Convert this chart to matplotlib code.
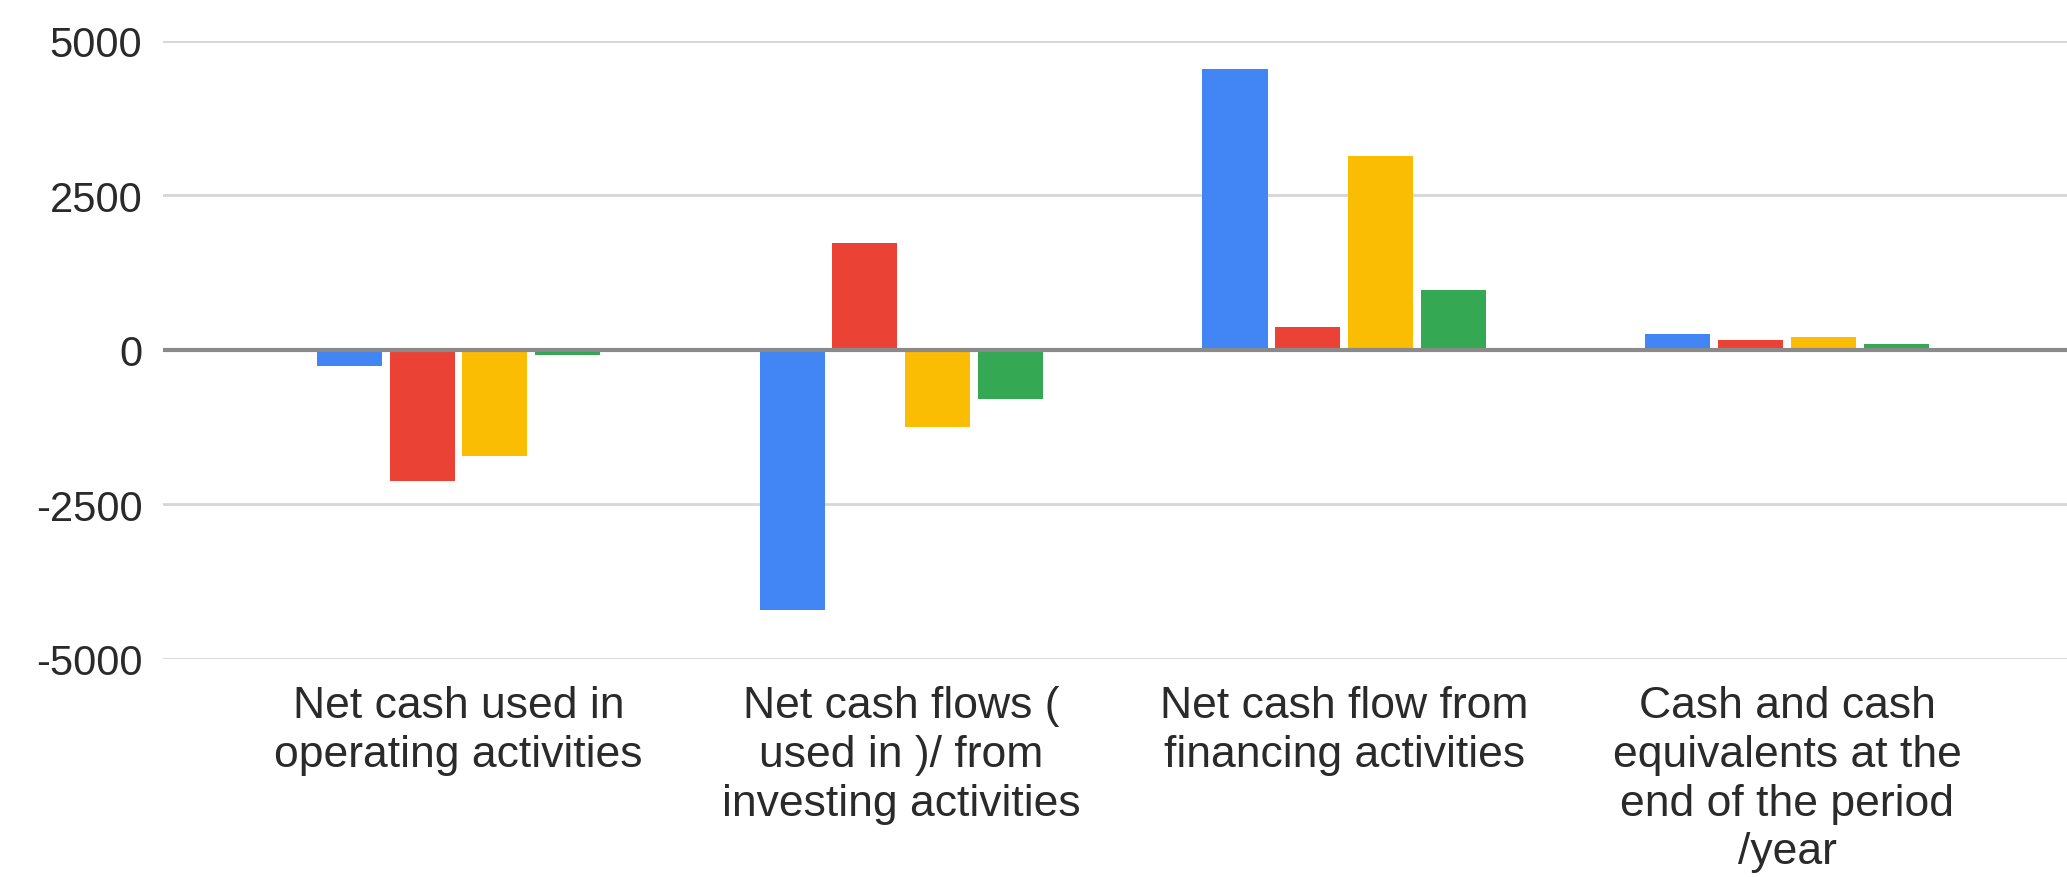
import numpy as np
import matplotlib
matplotlib.use("Agg")
import matplotlib.pyplot as plt

plt.rcParams['font.family'] = ['Liberation Sans', 'DejaVu Sans']

categories = [
    "Net cash used in\noperating activities",
    "Net cash flows (\nused in )/ from\ninvesting activities",
    "Net cash flow from\nfinancing activities",
    "Cash and cash\nequivalents at the\nend of the period\n/year",
]

# four reporting periods, one colour each
series_a = [-260, -4200, 4540, 250]
series_b = [-2130, 1720, 370, 150]
series_c = [-1720, -1250, 3140, 200]
series_d = [-80, -800, 960, 90]

series = [series_a, series_b, series_c, series_d]
colors = ["#4285F4", "#EA4335", "#FBBC04", "#34A853"]

yticks = [-5000, -2500, 0, 2500, 5000]

fig = plt.figure(figsize=(20.67, 8.78), dpi=100)
ax = fig.add_axes([0.0789, 0.2483, 0.9211, 0.7044])

x = np.arange(len(categories))
bar_w = 0.147
step = 0.1645
for i, (vals, c) in enumerate(zip(series, colors)):
    offs = (i - 1.5) * step
    ax.bar(x + offs, vals, width=bar_w, color=c, zorder=3)

ax.set_xlim(-0.667, 3.632)
ax.set_ylim(-5000, 5000)
ax.set_yticks(yticks)
ax.set_yticklabels([str(v) for v in yticks])
ax.set_xticks(x)
ax.set_xticklabels(categories, linespacing=1.24, fontsize=32)

ax.grid(axis='y', color='#d6d6d6', linewidth=2, zorder=0)
ax.axhline(0, color='#8a8a8a', linewidth=3, zorder=4)

for s in ax.spines.values():
    s.set_visible(False)
ax.tick_params(axis='both', length=0, colors='#2a2a2a')
ax.tick_params(axis='y', pad=15, labelsize=30)
ax.tick_params(axis='x', pad=19)

plt.savefig("out.png", dpi=100)
